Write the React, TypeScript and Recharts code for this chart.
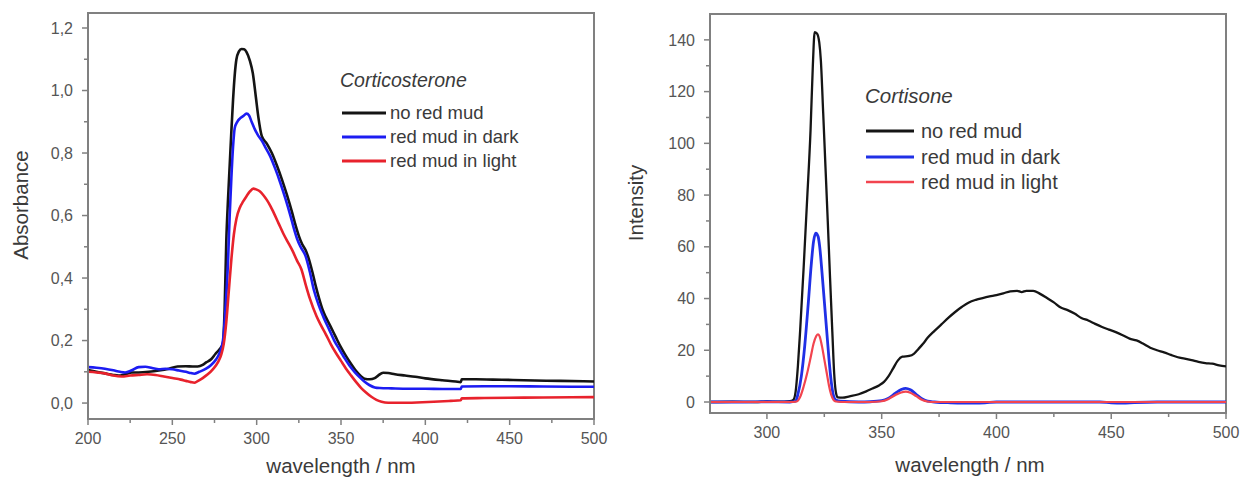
import React from 'react';
import { LineChart, Line, XAxis, YAxis, ReferenceArea, Legend } from 'recharts';

type Pt = [number, number];

// ---------------- Corticosterone : absorbance vs wavelength ----------------
const absNoRedMud: Pt[] = [
  [200, 0.106], [205, 0.1], [210, 0.095], [215, 0.09], [218, 0.088], [222, 0.092], [226, 0.098],
  [230, 0.098], [236, 0.1], [242, 0.104], [248, 0.11], [253, 0.117], [258, 0.118], [262, 0.117],
  [265, 0.117], [268, 0.122], [270, 0.13], [273, 0.14], [275.5, 0.157], [278, 0.172], [280, 0.19],
  [281, 0.3], [282, 0.52], [283, 0.65], [284, 0.76], [285, 0.87], [286, 0.97], [287, 1.05],
  [288, 1.1], [289.5, 1.125], [291, 1.133], [292.5, 1.132], [294, 1.123], [296, 1.095],
  [297.7, 1.056], [299.5, 0.98], [301, 0.915], [303, 0.855], [306, 0.83], [309, 0.8], [312, 0.76],
  [315, 0.715], [318, 0.665], [321, 0.61], [323, 0.57], [325, 0.535], [327, 0.508], [329, 0.49],
  [331, 0.46], [333, 0.42], [335, 0.375], [337, 0.335], [339, 0.3], [341, 0.275], [344, 0.243],
  [347, 0.21], [350, 0.178], [353, 0.15], [356, 0.125], [359, 0.102], [362, 0.085], [364, 0.078],
  [367, 0.076], [370, 0.08], [372, 0.088], [375, 0.097], [378, 0.096], [382, 0.092], [388, 0.088],
  [394, 0.084], [400, 0.079], [410, 0.073], [418, 0.069], [421, 0.067], [421.6, 0.076], [430, 0.076],
  [440, 0.075], [452, 0.074], [465, 0.072], [480, 0.071], [500, 0.069],
];

const absRedMudDark: Pt[] = [
  [200, 0.115], [205, 0.113], [210, 0.11], [215, 0.105], [219, 0.1], [222, 0.098], [226, 0.105],
  [230, 0.115], [234, 0.116], [238, 0.112], [242, 0.108], [246, 0.11], [250, 0.108], [254, 0.104],
  [258, 0.1], [261, 0.096], [263, 0.094], [266, 0.1], [270, 0.11], [273, 0.122], [276, 0.14],
  [278, 0.16], [280, 0.2], [281.5, 0.3], [283, 0.45], [284, 0.6], [285, 0.72], [286, 0.82],
  [287, 0.88], [288.5, 0.9], [290, 0.91], [292, 0.918], [294, 0.926], [295.5, 0.92], [297, 0.9],
  [299, 0.875], [301, 0.855], [303, 0.84], [305, 0.82], [308, 0.79], [311, 0.75], [314, 0.705],
  [317, 0.655], [320, 0.6], [322, 0.56], [324, 0.525], [326, 0.5], [329, 0.47], [331.5, 0.42],
  [334, 0.36], [337, 0.31], [340, 0.27], [343, 0.235], [346, 0.2], [349, 0.172], [352, 0.145],
  [355, 0.12], [358, 0.1], [361, 0.083], [364, 0.068], [367, 0.057], [370, 0.05], [373, 0.048],
  [380, 0.047], [390, 0.046], [400, 0.046], [410, 0.045], [421, 0.045], [421.6, 0.053], [435, 0.054],
  [450, 0.054], [470, 0.053], [500, 0.052],
];

const absRedMudLight: Pt[] = [
  [200, 0.1], [205, 0.098], [210, 0.095], [215, 0.088], [220, 0.085], [225, 0.088], [230, 0.09],
  [235, 0.092], [240, 0.09], [245, 0.085], [250, 0.08], [255, 0.075], [258, 0.071], [261, 0.067],
  [263, 0.065], [265, 0.07], [268, 0.08], [271, 0.092], [274, 0.108], [277, 0.13], [279, 0.155],
  [280.5, 0.19], [282, 0.26], [283.5, 0.36], [285, 0.46], [286.5, 0.54], [288, 0.59], [290, 0.625],
  [292, 0.645], [294, 0.662], [296, 0.677], [298, 0.686], [300, 0.683], [302, 0.677], [304, 0.665],
  [306, 0.65], [308, 0.632], [310, 0.61], [313, 0.575], [316, 0.54], [319, 0.51], [321, 0.49],
  [324, 0.455], [326.5, 0.428], [329, 0.38], [331.5, 0.335], [335.5, 0.278], [338, 0.25],
  [341, 0.22], [344, 0.188], [347, 0.16], [350, 0.135], [353, 0.11], [356, 0.088], [359, 0.067],
  [362, 0.048], [365, 0.033], [368, 0.02], [371, 0.01], [374, 0.004], [378, 0.001], [385, 0.001],
  [395, 0.002], [405, 0.004], [415, 0.007], [421, 0.009], [421.6, 0.015], [435, 0.016], [450, 0.017],
  [470, 0.018], [500, 0.019],
];

const absXMajor = [200, 250, 300, 350, 400, 450, 500];
const absXMinor = [225, 275, 325, 375, 425, 475];
const absXLabels = ['200', '250', '300', '350', '400', '450', '500'];
const absYMajor = [0, 0.2, 0.4, 0.6, 0.8, 1.0, 1.2];
const absYMinor = [0.1, 0.3, 0.5, 0.7, 0.9, 1.1];
const absYLabels = ['0,0', '0,2', '0,4', '0,6', '0,8', '1,0', '1,2'];

// ---------------- Cortisone : intensity vs wavelength ----------------
const intNoRedMud: Pt[] = [
  [275, 0], [285, 0.1], [295, 0], [300, 0.2], [305, 0.1], [310, 0.3], [311.5, 0.8], [312.5, 4],
  [313.5, 14], [314.5, 28], [316, 52], [317.5, 78], [319, 105], [320, 130], [320.8, 143],
  [321.8, 142.5], [322.8, 139], [323.5, 132], [324.5, 112], [325.5, 91], [326.5, 70], [327.5, 48],
  [328.5, 27], [329.3, 11], [330, 4], [330.8, 1.8], [333, 1.7], [336, 2.2], [340, 3], [343, 4],
  [346, 5.2], [349, 6.5], [351, 7.8], [353, 10], [355, 13], [357, 16], [359, 17.5], [362, 17.8],
  [364, 18.6], [366, 20.5], [368, 22.5], [370, 24.8], [373, 27.5], [376, 30], [379, 32.5],
  [382, 34.8], [385, 36.8], [388, 38.5], [391, 39.5], [394, 40.2], [397, 40.8], [400, 41.3],
  [403, 42], [406, 42.8], [409, 43], [411, 42.5], [413, 43], [416, 43], [419, 41.8], [422, 40.2],
  [425, 38.5], [428, 36.5], [431, 35.5], [434, 34.2], [437, 32.5], [440, 31.5], [443, 30.2],
  [446, 29], [449, 28], [452, 27], [455, 25.8], [458, 24.5], [461, 23.8], [464, 22.5], [467, 21],
  [470, 20], [473, 19.2], [476, 18.2], [479, 17.3], [482, 16.8], [485, 16.2], [488, 15.5],
  [491, 15], [494, 14.8], [497, 14.2], [500, 13.8],
];

const intRedMudDark: Pt[] = [
  [275, 0], [290, 0], [300, 0.1], [310, 0], [312.5, 0.3], [313.5, 3], [315, 10], [316.5, 22],
  [318, 38], [319.3, 53], [320.3, 62], [321.3, 65.3], [322.3, 64], [323, 60], [324, 50], [325, 39],
  [326, 28], [327, 17], [328, 8], [329, 2.5], [330, 0.8], [332, 0.3], [340, 0], [345, 0.1],
  [350, 0.5], [353, 1.5], [356, 3.4], [358.5, 4.8], [360.5, 5.3], [362.5, 4.7], [365, 3],
  [367.5, 1.3], [370, 0.3], [373, 0], [380, -0.3], [385, -0.4], [390, -0.4], [395, -0.3], [400, 0],
  [420, 0], [445, 0], [450, -0.3], [455, -0.4], [460, -0.2], [470, 0], [500, 0],
];

const intRedMudLight: Pt[] = [
  [275, 0], [290, 0], [300, 0], [310, 0], [313, 0.2], [314.5, 2], [316, 6], [317.5, 11], [319, 17],
  [320.3, 22.5], [321.5, 25.5], [322.3, 26.2], [323, 25.3], [324, 21.5], [325, 16.5], [326, 11.5],
  [327, 6.5], [328, 2.8], [329, 0.8], [330, 0.2], [335, 0], [345, 0], [350, 0.3], [353, 1.2],
  [356, 2.7], [358.5, 3.7], [360.5, 4], [362.5, 3.6], [365, 2.3], [367.5, 0.9], [370, 0.2],
  [373, 0], [400, 0], [430, 0], [460, 0], [500, 0],
];

const intXMajor = [300, 350, 400, 450, 500];
const intXMinor = [325, 375, 425, 475];
const intXLabels = ['300', '350', '400', '450', '500'];
const intYMajor = [0, 20, 40, 60, 80, 100, 120, 140];
const intYMinor = [10, 30, 50, 70, 90, 110, 130];
const intYLabels = ['0', '20', '40', '60', '80', '100', '120', '140'];

const seriesNames = ['no red mud', 'red mud in dark', 'red mud in light'];

// ---------------- styling ----------------
const FONT = '"Liberation Sans", Arial, Helvetica, sans-serif';
const AXIS = '#808080';
const TICK_TEXT = '#555555';
const TITLE_TEXT = '#3a3a3a';
const X_TS = 6;
const X_TM = 8;
const Y_TS = 6;
const Y_TM = 9;

const leftColors = ['#141414', '#1c1cf2', '#e8222c'];
const rightColors = ['#151515', '#2030e6', '#f2444f'];

const rows = (pts: Pt[]) => pts.map(([x, y]) => ({ x, y }));

const findIdx = (arr: number[], v: number) => arr.findIndex((m) => Math.abs(m - v) < 1e-9);

const makeXTick = (majors: number[], labels: string[]) => (props: any) => {
  const { x, y, payload } = props;
  const idx = findIdx(majors, payload.value);
  const axisY = y - X_TS - X_TM;
  const major = idx >= 0;
  return (
    <g>
      <line x1={x} x2={x} y1={axisY} y2={axisY + (major ? 6 : 4)} stroke={AXIS} strokeWidth={1.5} />
      {major && (
        <text x={x} y={y} dy="0.71em" textAnchor="middle" fontSize={16} fontFamily={FONT} fill={TICK_TEXT}>
          {labels[idx]}
        </text>
      )}
    </g>
  );
};

const makeYTick = (majors: number[], labels: string[]) => (props: any) => {
  const { x, y, payload } = props;
  const idx = findIdx(majors, payload.value);
  const axisX = x + Y_TS + Y_TM;
  const major = idx >= 0;
  return (
    <g>
      <line x1={axisX - (major ? 6 : 4)} x2={axisX} y1={y} y2={y} stroke={AXIS} strokeWidth={1.5} />
      {major && (
        <text x={x} y={y} dy="0.355em" textAnchor="end" fontSize={16} fontFamily={FONT} fill={TICK_TEXT}>
          {labels[idx]}
        </text>
      )}
    </g>
  );
};

type LegendCfg = {
  title: string;
  colors: string[];
  titleSize: number;
  itemSize: number;
  titleBase: number;
  lineYs: number[];
  lineX1: number;
  lineX2: number;
  textX: number;
  textDy: number;
  widths: number[];
};

const LegendBox = (cfg: LegendCfg) => (
  <svg width={260} height={130} style={{ display: 'block', overflow: 'visible' }}>
    <text x={0} y={cfg.titleBase} fontStyle="italic" fontSize={cfg.titleSize} fontFamily={FONT} fill={TITLE_TEXT}>
      {cfg.title}
    </text>
    {seriesNames.map((n, i) => (
      <g key={n}>
        <line x1={cfg.lineX1} x2={cfg.lineX2} y1={cfg.lineYs[i]} y2={cfg.lineYs[i]} stroke={cfg.colors[i]} strokeWidth={cfg.widths[i]} />
        <text x={cfg.textX} y={cfg.lineYs[i] + cfg.textDy} fontSize={cfg.itemSize} fontFamily={FONT} fill={TITLE_TEXT}>
          {n}
        </text>
      </g>
    ))}
  </svg>
);

const leftLegend: LegendCfg = {
  title: 'Corticosterone', colors: leftColors, titleSize: 19.5, itemSize: 18.5, titleBase: 27,
  lineYs: [53, 77, 101], lineX1: 2, lineX2: 46, textX: 50, textDy: 6, widths: [3, 3, 3],
};
const rightLegend: LegendCfg = {
  title: 'Cortisone', colors: rightColors, titleSize: 20.5, itemSize: 20, titleBase: 28,
  lineYs: [56, 82, 107], lineX1: 1, lineX2: 49, textX: 56, textDy: 6.5, widths: [3, 3, 2.5],
};

export default function App() {
  return (
    <div style={{ position: 'absolute', left: 0, top: 0, width: 1241, height: 479, background: '#fff', overflow: 'hidden' }}>
      <div style={{ position: 'absolute', left: 0, top: 0 }}>
        <LineChart width={620} height={479} margin={{ top: 13, right: 26, bottom: 0, left: 0 }}>
          <XAxis
            type="number" dataKey="x" domain={[200, 500]} allowDataOverflow
            ticks={[...absXMajor, ...absXMinor].sort((a, b) => a - b)} interval={0}
            height={60} tickSize={X_TS} tickMargin={X_TM} tickLine={false}
            axisLine={{ stroke: AXIS, strokeWidth: 2 }}
            tick={makeXTick(absXMajor, absXLabels)}
          />
          <YAxis
            type="number" domain={[-0.051, 1.248]} allowDataOverflow
            ticks={[...absYMajor, ...absYMinor].sort((a, b) => a - b)} interval={0}
            width={88} tickSize={Y_TS} tickMargin={Y_TM} tickLine={false}
            axisLine={{ stroke: AXIS, strokeWidth: 2 }}
            tick={makeYTick(absYMajor, absYLabels)}
          />
          <ReferenceArea x1={200} x2={500} y1={-0.051} y2={1.248} fill="none" stroke={AXIS} strokeWidth={2} ifOverflow="visible" />
          <Line data={rows(absNoRedMud)} dataKey="y" type="monotone" stroke={leftColors[0]} strokeWidth={2.6} dot={false} isAnimationActive={false} name={seriesNames[0]} />
          <Line data={rows(absRedMudDark)} dataKey="y" type="monotone" stroke={leftColors[1]} strokeWidth={2.6} dot={false} isAnimationActive={false} name={seriesNames[1]} />
          <Line data={rows(absRedMudLight)} dataKey="y" type="monotone" stroke={leftColors[2]} strokeWidth={2.6} dot={false} isAnimationActive={false} name={seriesNames[2]} />
          <Legend
            layout="vertical" align="center" verticalAlign="middle"
            wrapperStyle={{ left: 340, top: 60, width: 260, height: 130 }}
            content={() => <LegendBox {...leftLegend} />}
          />
        </LineChart>
      </div>
      <div style={{ position: 'absolute', left: 620, top: 0 }}>
        <LineChart width={621} height={479} margin={{ top: 14, right: 15, bottom: 0, left: 0 }}>
          <XAxis
            type="number" dataKey="x" domain={[275.2, 500]} allowDataOverflow
            ticks={[...intXMajor, ...intXMinor].sort((a, b) => a - b)} interval={0}
            height={66} tickSize={X_TS} tickMargin={X_TM} tickLine={false}
            axisLine={{ stroke: AXIS, strokeWidth: 2 }}
            tick={makeXTick(intXMajor, intXLabels)}
          />
          <YAxis
            type="number" domain={[-4.25, 150]} allowDataOverflow
            ticks={[...intYMajor, ...intYMinor].sort((a, b) => a - b)} interval={0}
            width={90} tickSize={Y_TS} tickMargin={Y_TM} tickLine={false}
            axisLine={{ stroke: AXIS, strokeWidth: 2 }}
            tick={makeYTick(intYMajor, intYLabels)}
          />
          <ReferenceArea x1={275.2} x2={500} y1={-4.25} y2={150} fill="none" stroke={AXIS} strokeWidth={2} ifOverflow="visible" />
          <Line data={rows(intNoRedMud)} dataKey="y" type="monotone" stroke={rightColors[0]} strokeWidth={2.3} dot={false} isAnimationActive={false} name={seriesNames[0]} />
          <Line data={rows(intRedMudDark)} dataKey="y" type="monotone" stroke={rightColors[1]} strokeWidth={2.8} dot={false} isAnimationActive={false} name={seriesNames[1]} />
          <Line data={rows(intRedMudLight)} dataKey="y" type="monotone" stroke={rightColors[2]} strokeWidth={2.2} dot={false} isAnimationActive={false} name={seriesNames[2]} />
          <Legend
            layout="vertical" align="center" verticalAlign="middle"
            wrapperStyle={{ left: 245, top: 75, width: 260, height: 130 }}
            content={() => <LegendBox {...rightLegend} />}
          />
        </LineChart>
      </div>
      <svg width={1241} height={479} style={{ position: 'absolute', left: 0, top: 0, pointerEvents: 'none' }}>
        <text x={341} y={473} textAnchor="middle" fontSize={20.5} fontFamily={FONT} fill={TITLE_TEXT}>wavelength / nm</text>
        <text x={970} y={472} textAnchor="middle" fontSize={20.5} fontFamily={FONT} fill={TITLE_TEXT}>wavelength / nm</text>
        <text x={28} y={205} textAnchor="middle" fontSize={20.5} fontFamily={FONT} fill={TITLE_TEXT} transform="rotate(-90 28 205)">Absorbance</text>
        <text x={643} y={203} textAnchor="middle" fontSize={20.5} fontFamily={FONT} fill={TITLE_TEXT} transform="rotate(-90 643 203)">Intensity</text>
      </svg>
    </div>
  );
}
